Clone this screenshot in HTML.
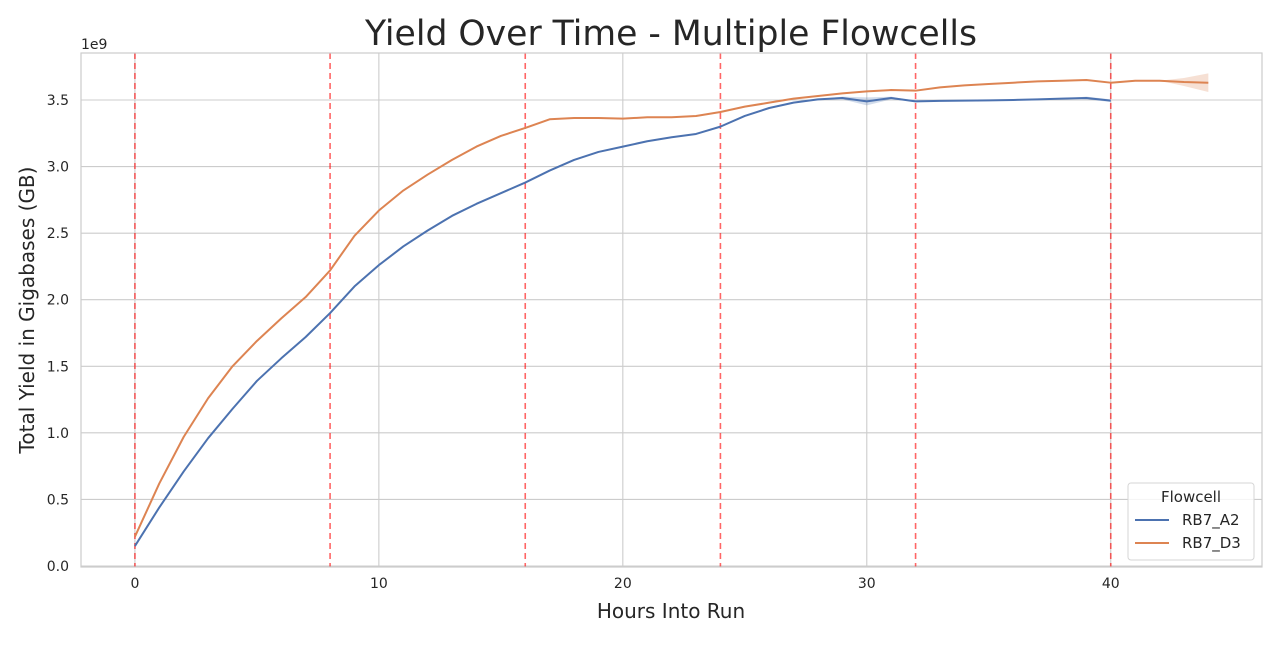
<!DOCTYPE html>
<html><head><meta charset="utf-8"><style>
body{margin:0;background:#fff;}
svg text{font-family:"DejaVu Sans","Liberation Sans",sans-serif;fill:#262626;}
</style></head><body>
<svg id="chart" width="1280" height="640" xmlns="http://www.w3.org/2000/svg">
<text x="671" y="45" text-anchor="middle" font-size="34.5" textLength="612" lengthAdjust="spacingAndGlyphs">Yield Over Time - Multiple Flowcells</text>
<g id="grid"></g><g id="bands"></g><g id="vlines"></g><g id="lines"></g><g id="ticks"></g>
<rect x="81" y="53" width="1181" height="514" fill="none" stroke="#cccccc" stroke-width="1.2"/>
<text x="81" y="49" font-size="14">1e9</text>
<text x="671" y="618" text-anchor="middle" font-size="20">Hours Into Run</text>
<text transform="translate(34,310) rotate(-90)" text-anchor="middle" font-size="20">Total Yield in Gigabases (GB)</text>
<g>
<rect x="1128" y="483" width="126" height="77" rx="3" fill="#fff" fill-opacity="0.8" stroke="#d6d6d6"/>
<text x="1191" y="502" text-anchor="middle" font-size="15">Flowcell</text>
<line x1="1135" y1="520" x2="1169" y2="520" stroke="#4c72b0" stroke-width="2"/>
<text x="1182" y="525" font-size="15">RB7_A2</text>
<line x1="1135" y1="543" x2="1169" y2="543" stroke="#dd8452" stroke-width="2"/>
<text x="1182" y="548" font-size="15">RB7_D3</text>
</g>
</svg>
<script>
const xTicks=[0,10,20,30,40];
const yTicks=[0,0.5,1.0,1.5,2.0,2.5,3.0,3.5];
const yTickLabels=["0.0","0.5","1.0","1.5","2.0","2.5","3.0","3.5"];
const changeHours=[0,8,16,24,32,40];
const hoursA2=[0,1,2,3,4,5,6,7,8,9,10,11,12,13,14,15,16,17,18,19,20,21,22,23,24,25,26,27,28,29,30,31,32,33,34,35,36,37,38,39,40];
const yieldA2=[0.15,0.44,0.71,0.96,1.18,1.39,1.56,1.72,1.90,2.10,2.26,2.40,2.52,2.63,2.72,2.80,2.88,2.97,3.05,3.11,3.15,3.19,3.22,3.245,3.30,3.38,3.44,3.48,3.505,3.515,3.49,3.515,3.49,3.493,3.495,3.497,3.5,3.505,3.51,3.515,3.495];
const bandA2=[0,0,0,0,0,0,0,0,0,0,0,0,0,0,0,0,0,0,0,0,0,0,0,0,0,0,0,0,0,0.01,0.03,0.01,0,0,0,0,0,0,0,0.01,0.01];
const hoursD3=[0,1,2,3,4,5,6,7,8,9,10,11,12,13,14,15,16,17,18,19,20,21,22,23,24,25,26,27,28,29,30,31,32,33,34,35,36,37,38,39,40,41,42,43,44];
const yieldD3=[0.22,0.62,0.97,1.26,1.50,1.69,1.86,2.02,2.22,2.48,2.67,2.82,2.94,3.05,3.15,3.23,3.29,3.355,3.365,3.365,3.36,3.37,3.37,3.38,3.41,3.45,3.48,3.51,3.53,3.55,3.565,3.575,3.57,3.595,3.61,3.62,3.63,3.64,3.645,3.65,3.63,3.645,3.645,3.635,3.63];
const bandD3=[0,0,0,0,0,0,0,0,0,0,0,0,0,0,0,0,0,0,0,0,0,0,0,0,0,0,0,0,0,0,0,0,0,0,0,0,0,0,0,0,0,0,0,0.03,0.07];
const X0=-2.21,X1=46.2,Y0=-0.0075,Y1=3.853,L=81,R=1262,T=53,B=567;
const sx=v=>L+(v-X0)/(X1-X0)*(R-L);
const sy=v=>B-(v-Y0)/(Y1-Y0)*(B-T);
const NS="http://www.w3.org/2000/svg";
function mk(tag,attrs,parent){const e=document.createElementNS(NS,tag);for(const k in attrs)e.setAttribute(k,attrs[k]);document.getElementById(parent).appendChild(e);return e;}
xTicks.forEach(t=>{
 const g=mk('line',{x1:sx(t),x2:sx(t),y1:T,y2:B,stroke:'#cccccc','stroke-width':1.1},'grid');
 
 
 const tx=mk('text',{x:sx(t),y:B+21,'text-anchor':'middle','font-size':14},'ticks');tx.textContent=t;
 
 
});
yTicks.forEach((t,i)=>{
 const g=mk('line',{x1:L,x2:R,y1:sy(t),y2:sy(t),stroke:'#cccccc','stroke-width':1.1},'grid');
 
 
 const tx=mk('text',{x:L-12,y:sy(t)+5,'text-anchor':'end','font-size':14},'ticks');tx.textContent=yTickLabels[i];
 
 
});
changeHours.forEach(h=>{
 const l=mk('line',{x1:sx(h),x2:sx(h),y1:T,y2:B,stroke:'#ff0000','stroke-opacity':0.6,'stroke-width':1.6,'stroke-dasharray':'6,4'},'vlines');
 
 
});
function series(hs,ys,bs,color,name){
 const up=hs.map((h,i)=>sx(h)+','+sy(ys[i]+bs[i])).join(' ');
 const dn=hs.map((h,i)=>sx(h)+','+sy(ys[i]-bs[i])).reverse().join(' ');
 const b=mk('polygon',{points:up+' '+dn,fill:color,'fill-opacity':0.25,stroke:'none'},'bands');
 
 
 const p=mk('polyline',{points:hs.map((h,i)=>sx(h)+','+sy(ys[i])).join(' '),fill:'none',stroke:color,'stroke-width':2,'stroke-linejoin':'round'},'lines');
 
 
}
series(hoursA2,yieldA2,bandA2,'#4c72b0','rb7-a2');
series(hoursD3,yieldD3,bandD3,'#dd8452','rb7-d3');
</script>
</body></html>
